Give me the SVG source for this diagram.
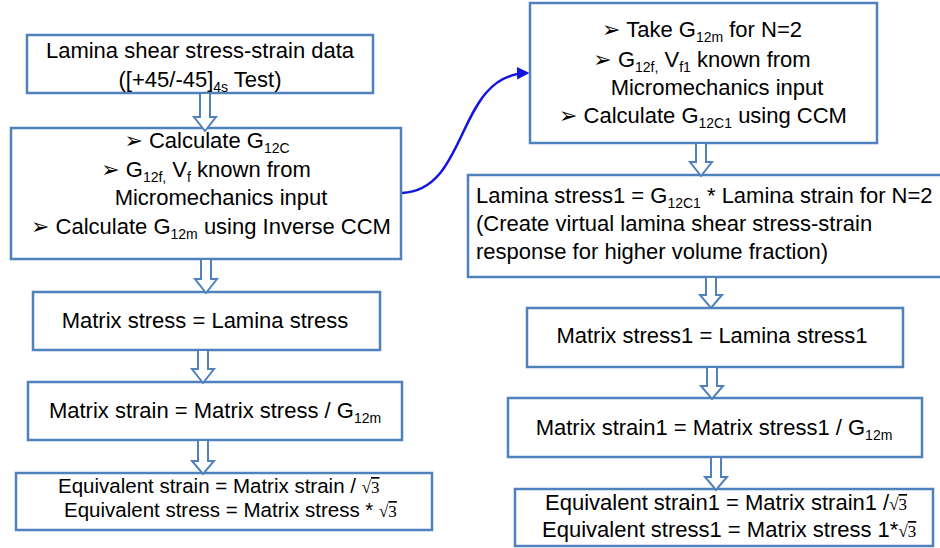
<svg xmlns="http://www.w3.org/2000/svg" width="940" height="548" viewBox="0 0 940 548">
<style>
.box{fill:#fff;stroke:#4f81bd;stroke-width:2.5}
.arr{fill:#fff;stroke:#4f81bd;stroke-width:2;stroke-linejoin:miter}
text{font-family:"Liberation Sans",Arial,sans-serif;font-size:22px;fill:#000}
.c{text-anchor:middle}
.b{font-family:"DejaVu Sans",sans-serif;font-size:22px}
.s{font-size:14px}
.r{font-family:"Liberation Serif","Times New Roman",serif;font-size:17px}
.ov{text-decoration:overline}
.sm{font-size:20.5px}
</style>
<defs>
<marker id="ah" viewBox="0 0 10 10" refX="8" refY="5" markerWidth="5" markerHeight="5" orient="auto" markerUnits="strokeWidth">
<path d="M0,0 L10,5 L0,10 z" fill="#1414e0"/>
</marker>
</defs>
<rect width="940" height="548" fill="#fff"/>
<g id="connectors">
<path d="M402,193 C470,190 455,75 527,73" fill="none" stroke="#1414e0" stroke-width="2.5" marker-end="url(#ah)"/>
</g>
<g id="n1">
<rect class="box" x="27" y="35" width="346" height="58"/>
<text class="c" x="200" y="58">Lamina shear stress-strain data</text>
<text class="c" x="200" y="87">([+45/-45]<tspan class="s" dy="5">4s</tspan><tspan dy="-5"> Test)</tspan></text>
</g>
<g id="n2">
<rect class="box" x="11" y="128" width="390" height="131"/>
<text class="c" x="207" y="148"><tspan class="b">➢</tspan>  Calculate G<tspan class="s" dy="5">12C</tspan></text>
<text class="c" x="206" y="177"><tspan class="b">➢</tspan>  G<tspan class="s" dy="5">12f,</tspan><tspan dy="-5"> V</tspan><tspan class="s" dy="5">f</tspan><tspan dy="-5"> known from</tspan></text>
<text class="c" x="221" y="205">Micromechanics input</text>
<text class="c" x="211" y="234"><tspan class="b">➢</tspan>  Calculate G<tspan class="s" dy="5">12m</tspan><tspan dy="-5"> using Inverse CCM</tspan></text>
</g>
<g id="n3">
<rect class="box" x="33" y="292" width="347" height="58"/>
<text class="c" x="205" y="328">Matrix stress = Lamina stress</text>
</g>
<g id="n4">
<rect class="box" x="28" y="382" width="374" height="58"/>
<text class="c" x="215" y="418">Matrix strain = Matrix stress / G<tspan class="s" dy="5">12m</tspan></text>
</g>
<g id="n5">
<rect class="box" x="16" y="473" width="416" height="57"/>
<text class="sm" x="58" y="493">Equivalent strain = Matrix strain / <tspan class="r">√<tspan class="ov">3</tspan></tspan></text>
<text class="sm" x="64" y="517">Equivalent stress = Matrix stress *  <tspan class="r">√<tspan class="ov">3</tspan></tspan></text>
</g>
<g id="r1">
<rect class="box" x="530" y="3" width="347" height="140"/>
<text class="c" x="702" y="37"><tspan class="b">➢</tspan>  Take G<tspan class="s" dy="5">12m</tspan><tspan dy="-5"> for N=2</tspan></text>
<text class="c" x="702" y="67"><tspan class="b">➢</tspan>  G<tspan class="s" dy="5">12f,</tspan><tspan dy="-5"> V</tspan><tspan class="s" dy="5">f1</tspan><tspan dy="-5"> known from</tspan></text>
<text class="c" x="717" y="95">Micromechanics input</text>
<text class="c" x="703" y="123"><tspan class="b">➢</tspan>  Calculate G<tspan class="s" dy="5">12C1</tspan><tspan dy="-5"> using CCM</tspan></text>
</g>
<g id="r2">
<rect class="box" x="468" y="175" width="474" height="102"/>
<text x="476" y="203">Lamina stress1 = G<tspan class="s" dy="5">12C1</tspan><tspan dy="-5"> * Lamina strain for N=2</tspan></text>
<text x="476" y="231">(Create virtual lamina shear stress-strain</text>
<text x="476" y="259">response for higher volume fraction)</text>
</g>
<g id="r3">
<rect class="box" x="527" y="308" width="376" height="59"/>
<text class="c" x="712" y="343">Matrix stress1 = Lamina stress1</text>
</g>
<g id="r4">
<rect class="box" x="508" y="398" width="414" height="59"/>
<text class="c" x="714" y="435">Matrix strain1 = Matrix stress1 / G<tspan class="s" dy="5">12m</tspan></text>
</g>
<g id="r5">
<rect class="box" x="515" y="489" width="418" height="57"/>
<text x="545" y="510">Equivalent strain1 = Matrix strain1 /<tspan class="r">√<tspan class="ov">3</tspan></tspan></text>
<text x="542" y="537">Equivalent stress1 = Matrix stress 1*<tspan class="r">√<tspan class="ov">3</tspan></tspan></text>
</g>
<g id="block-arrows">
<polygon class="arr" points="200,93 210,93 210,117 216,117 205,131 194,117 200,117"/>
<polygon class="arr" points="201,259 211,259 211,279 217,279 206,293 195,279 201,279"/>
<polygon class="arr" points="198,350 208,350 208,369 214,369 203,383 192,369 198,369"/>
<polygon class="arr" points="198,440 208,440 208,461 214,461 203,474 192,461 198,461"/>
<polygon class="arr" points="696,143 706,143 706,162 712,162 701,176 690,162 696,162"/>
<polygon class="arr" points="706,277 716,277 716,295 722,295 711,308 700,295 706,295"/>
<polygon class="arr" points="707,367 717,367 717,386 723,386 712,399 701,386 707,386"/>
<polygon class="arr" points="711,457 721,457 721,477 727,477 716,490 705,477 711,477"/>
</g>
</svg>
